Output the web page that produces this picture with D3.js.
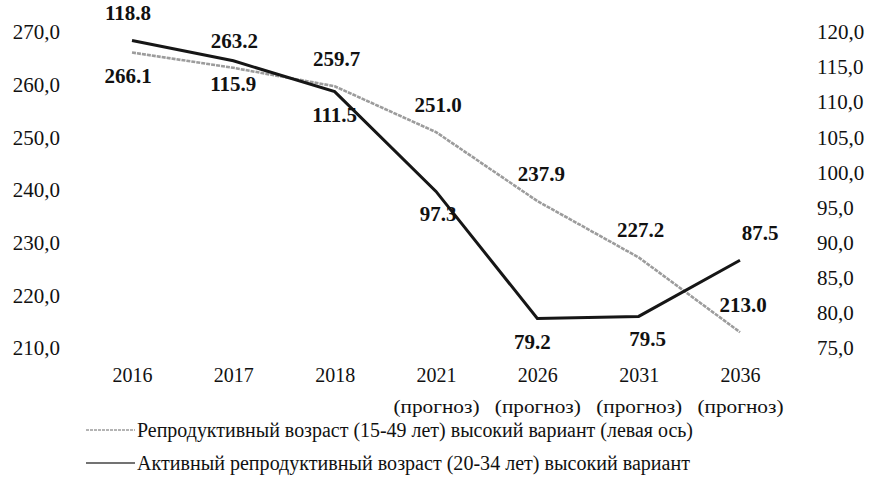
<!DOCTYPE html>
<html>
<head>
<meta charset="utf-8">
<script src="https://cdn.jsdelivr.net/npm/d3@7/dist/d3.min.js"></script>
<style>
  html, body { margin: 0; padding: 0; background: #fff; }
  svg { display: block; }
  text { font-family: "Liberation Serif", "Times New Roman", serif; fill: #111; }
</style>
</head>
<body>
<svg id="chart" width="873" height="484"></svg>
<script>
// Years on the horizontal axis; forecast years carry a "(прогноз)" note
const years = ["2016", "2017", "2018", "2021", "2026", "2031", "2036"];
const forecastYears = ["2021", "2026", "2031", "2036"];

// Reproductive age 15-49, high variant (left axis)
const reproductive = [266.1, 263.2, 259.7, 251.0, 237.9, 227.2, 213.0];
// Active reproductive age 20-34, high variant (right axis)
const activeReproductive = [118.8, 115.9, 111.5, 97.3, 79.2, 79.5, 87.5];

// Axis ticks
const leftTicks = [210, 220, 230, 240, 250, 260, 270];
const rightTicks = [75, 80, 85, 90, 95, 100, 105, 110, 115, 120];

// Label placement for each point: 1 = above the line, -1 = below
const reproductiveSide = [-1, 1, 1, 1, 1, 1, 1];
const activeSide = [1, -1, -1, -1, -1, -1, 1];

const legendLabels = [
  "Репродуктивный возраст (15-49 лет) высокий вариант (левая ось)",
  "Активный репродуктивный возраст (20-34 лет) высокий вариант"
];

const svg = d3.select("#chart");

const x = d3.scalePoint().domain(years).range([132, 740]);
const yLeft = d3.scaleLinear().domain([210, 270]).range([348, 32]);
const yRight = d3.scaleLinear().domain([75, 120]).range([348, 32]);

const commaFmt = v => d3.format(".1f")(v).replace(".", ",");

// Left axis
const gl = svg.append("g")
  .attr("transform", "translate(62,0)")
  .call(d3.axisLeft(yLeft).tickValues(leftTicks).tickSize(0).tickPadding(2).tickFormat(commaFmt));
gl.select(".domain").remove();
gl.selectAll("text").style("font-size", "21px").style("font-family", "Liberation Serif, serif").attr("fill", "#111");

// Right axis
const gr = svg.append("g")
  .attr("transform", "translate(814,0)")
  .call(d3.axisRight(yRight).tickValues(rightTicks).tickSize(0).tickPadding(3).tickFormat(commaFmt));
gr.select(".domain").remove();
gr.selectAll("text").style("font-size", "21px").style("font-family", "Liberation Serif, serif").attr("fill", "#111");

// Bottom axis: years plus forecast note
const gb = svg.append("g")
  .attr("transform", "translate(0,368)")
  .call(d3.axisBottom(x).tickSize(0).tickPadding(0));
gb.select(".domain").remove();
gb.selectAll("text")
  .style("font-size", "20px").style("font-family", "Liberation Serif, serif")
  .attr("fill", "#111").attr("dy", "0.71em");
gb.selectAll(".tick").filter(d => forecastYears.includes(d))
  .append("text")
  .attr("y", 45)
  .attr("text-anchor", "middle")
  .attr("fill", "#111")
  .attr("textLength", 86)
  .attr("lengthAdjust", "spacingAndGlyphs")
  .style("font-size", "19px").style("font-family", "Liberation Serif, serif")
  .text("(прогноз)");

// Lines
const lineLeft = d3.line().x((d, i) => x(years[i])).y(d => yLeft(d));
const lineRight = d3.line().x((d, i) => x(years[i])).y(d => yRight(d));

svg.append("path")
  .datum(reproductive)
  .attr("d", lineLeft)
  .attr("fill", "none")
  .attr("stroke", "#9c9c9c")
  .attr("stroke-width", 2.6)
  .attr("stroke-dasharray", "4,1");

svg.append("path")
  .datum(activeReproductive)
  .attr("d", lineRight)
  .attr("fill", "none")
  .attr("stroke", "#161616")
  .attr("stroke-width", 3);

// Data labels
const labelFmt = d3.format(".1f");
function addLabels(values, scale, sides, dxList) {
  svg.append("g").selectAll("text")
    .data(values)
    .join("text")
    .attr("x", (d, i) => x(years[i]) + (dxList ? dxList[i] : 0))
    .attr("y", (d, i) => scale(d) + (sides[i] > 0 ? -20 : 30))
    .attr("text-anchor", "middle")
    .style("font-size", "21px")
    .style("font-weight", "bold")
    .text(d => labelFmt(d));
}
addLabels(reproductive, yLeft, reproductiveSide, [-4, 1, 2, 2, 4, 2, 3]);
addLabels(activeReproductive, yRight, activeSide, [-4, 0, 0, 2, -5, 9, 20]);

// Legend
const legend = svg.append("g");
const legendY = [430, 463];
const legendStroke = ["#9c9c9c", "#444"];
legendLabels.forEach((label, i) => {
  legend.append("line")
    .attr("x1", 86).attr("x2", 135)
    .attr("y1", legendY[i]).attr("y2", legendY[i])
    .attr("stroke", legendStroke[i])
    .attr("stroke-width", 1.6)
    .attr("stroke-dasharray", i === 0 ? "3,1" : null);
  legend.append("text")
    .attr("x", 137)
    .attr("y", legendY[i] + 7)
    .attr("textLength", i === 0 ? 556 : 553)
    .attr("lengthAdjust", "spacingAndGlyphs")
    .style("font-size", "20px")
    .text(label);
});
</script>
</body>
</html>
